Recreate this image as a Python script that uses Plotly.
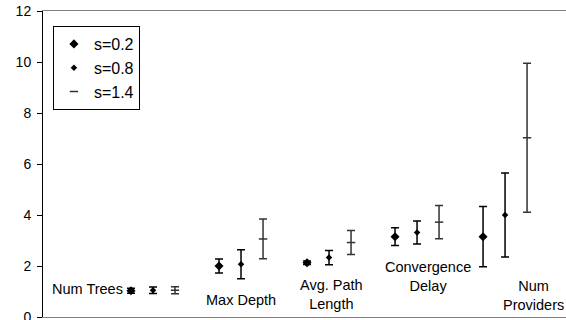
import plotly.graph_objects as go

categories = ["Num Trees", "Max Depth", "Avg. Path<br>Length", "Convergence<br>Delay", "Num<br>Providers"]
series_names = ["s=0.2", "s=0.8", "s=1.4"]
means = {
    "s=0.2": [1.03, 2.00, 2.13, 3.15, 3.15],
    "s=0.8": [1.05, 2.07, 2.33, 3.31, 4.00],
    "s=1.4": [1.05, 3.06, 2.92, 3.72, 7.03],
}
errors = {
    "s=0.2": [0.10, 0.27, 0.07, 0.35, 1.18],
    "s=0.8": [0.13, 0.57, 0.28, 0.45, 1.65],
    "s=1.4": [0.14, 0.78, 0.47, 0.65, 2.92],
}
y_ticks = [0, 2, 4, 6, 8, 10, 12]

styles = {
    "s=0.2": dict(symbol="diamond", size=7, color="black", line=dict(width=0)),
    "s=0.8": dict(symbol="diamond", size=5, color="black", line=dict(width=0)),
    "s=1.4": dict(symbol="line-ew", size=6, color="#333333", line=dict(width=1.5, color="#333333")),
}
err_colors = {"s=0.2": "black", "s=0.8": "black", "s=1.4": "#333333"}

fig = go.Figure()
for j, name in enumerate(series_names):
    xs = [4 * (i + 1) + j for i in range(len(categories))]
    fig.add_trace(go.Scatter(
        x=xs, y=means[name], mode="markers", name=name,
        marker=styles[name],
        error_y=dict(type="data", array=errors[name], visible=True,
                     color=err_colors[name], thickness=1.5, width=4),
    ))

label_pos = [(2.0, 1.1), (9.0, 0.67), (13.1, 0.9), (17.5, 1.57), (22.3, 0.86)]
for text, (lx, ly) in zip(categories, label_pos):
    fig.add_annotation(x=lx, y=ly, text=text, showarrow=False,
                       font=dict(size=14.5, color="black"), xanchor="center", yanchor="middle")

fig.update_layout(
    width=566, height=320,
    margin=dict(l=43, r=0, t=11, b=3),
    paper_bgcolor="white", plot_bgcolor="white",
    font=dict(family="Liberation Sans, Arial, sans-serif", color="black", size=14),
    showlegend=True,
    legend=dict(x=0.019, y=0.951, xanchor="left", yanchor="top",
                bordercolor="black", borderwidth=1, bgcolor="white",
                font=dict(size=16), itemwidth=30, tracegroupgap=0),
    xaxis=dict(range=[0, 23.77], showgrid=False, zeroline=False, showticklabels=False,
               ticks="", showline=True, linecolor="#808080", linewidth=1, mirror=True,
               automargin=False),
    yaxis=dict(range=[0, 12], tickvals=y_ticks, showgrid=False, zeroline=False,
               ticks="outside", ticklen=5, tickcolor="black", showline=True,
               linecolor="black", linewidth=1, tickfont=dict(size=14),
               automargin=False, ticklabelstandoff=3, ticklabeloverflow="allow"),
)

fig.write_html("out.html", config={"displayModeBar": False},
               post_script="document.body.style.margin='0';document.body.style.overflow='hidden';")
